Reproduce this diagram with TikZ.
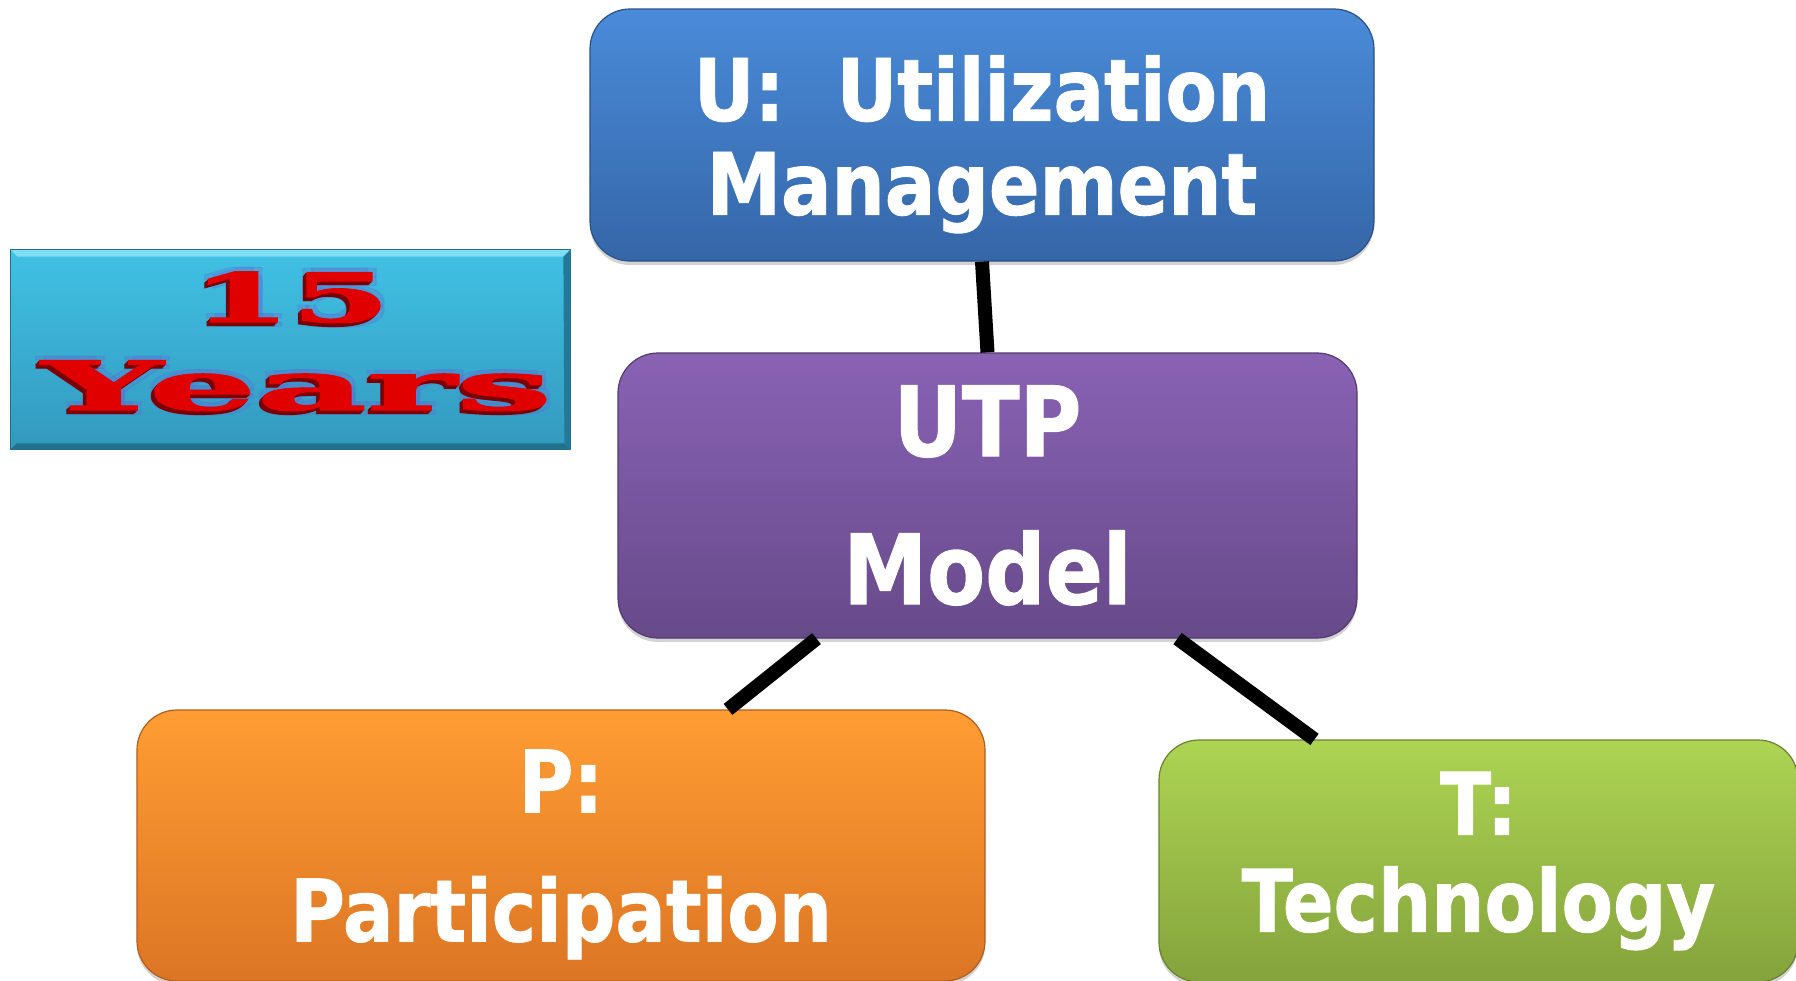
\documentclass[tikz,border=0pt]{standalone}
\usepackage{fontspec}
\usetikzlibrary{calc, shadows}
\newfontfamily\boxfont{DejaVu Sans}[FakeStretch=0.87, FakeBold=1]
\newfontfamily\yearsfont{DejaVu Serif}[FakeBold=1.5]

\definecolor{uTop}{HTML}{4A8BD9}
\definecolor{uBot}{HTML}{3566A8}
\definecolor{mTop}{HTML}{8962B4}
\definecolor{mBot}{HTML}{674A8A}
\definecolor{pTop}{HTML}{FF9D33}
\definecolor{pBot}{HTML}{DC7524}
\definecolor{tTop}{HTML}{ADD453}
\definecolor{tBot}{HTML}{84A33C}
\definecolor{yrsTop}{HTML}{40C1E4}
\definecolor{yrsBot}{HTML}{3399BE}
\definecolor{yrsLight}{HTML}{7FDDF5}
\definecolor{yrsEdge}{HTML}{22708C}
\definecolor{yrsRed}{HTML}{E00000}
\definecolor{yrsDark}{HTML}{7A0000}
\definecolor{yrsGlow}{HTML}{5A6FD8}

\tikzset{
    box/.style 2 args={rectangle, rounded corners=20pt, draw=#2!80!black, line width=0.6pt,
        top color=#1, bottom color=#2, text=white, align=center, inner sep=0pt,
        drop shadow={shadow xshift=0pt, shadow yshift=-2pt, opacity=0.35}},
    link/.style={line width=7pt, black},
    yrsText/.style={font=\yearsfont\bfseries\fontsize{34}{40}\selectfont, inner sep=0pt, anchor=base},
}

% glow, extruded shade, then the red face
\newcommand{\yearsWord}[4]{
    \foreach \a in {45,135,225,315}
        \node[yrsText, xscale=#3, text=yrsGlow, opacity=0.25] (#1glow\a) at ($(#2)+(\a:6)$) {#4};
    \foreach \d in {1,2,3}
        \node[yrsText, xscale=#3, text=yrsDark] (#1shade\d) at ($(#2)+(-1.2*\d,1.2*\d)$) {#4};
    \node[yrsText, xscale=#3, text=yrsRed] (#1) at (#2) {#4};
}

\begin{document}
\begin{tikzpicture}[x=0.5pt, y=-0.5pt]
    \useasboundingbox (0,0) rectangle (1796,981);

    % the four boxes of the model
    \node[box={uTop}{uBot}, minimum width=392pt, minimum height=126pt, text depth=0pt,
        font=\boxfont\bfseries\fontsize{43}{47}\selectfont] (U) at (982,135) {U:\ \ Utilization\\Management};
    \node[box={mTop}{mBot}, minimum width=369.5pt, minimum height=142.5pt,
        font=\boxfont\bfseries\fontsize{48.5}{74}\selectfont] (M) at (987.5,495.5) {UTP\\Model};
    \node[box={pTop}{pBot}, minimum width=424pt, minimum height=135.5pt, text depth=0pt,
        font=\boxfont\bfseries\fontsize{43}{64.5}\selectfont] (P) at (561,845.5) {P:\\Participation};
    \node[box={tTop}{tBot}, minimum width=319.5pt, minimum height=121pt,
        font=\boxfont\bfseries\fontsize{43}{48.5}\selectfont] (T) at (1478.5,861) {T:\\Technology};

    \draw[link] (U.south) -- (M.north);
    \draw[link] ($(M.south)+(-171,0)$) -- ($(P.north)+(167,0)$);
    \draw[link] ($(M.south)+(190,0)$) -- ($(T.north)+(-164,0)$);

    % bevelled badge
    \node[rectangle, minimum width=279.5pt, minimum height=99.5pt, inner sep=0pt,
        top color=yrsTop, bottom color=yrsBot] (yrs) at (290.5,349.5) {};
    \fill[yrsLight] (yrs.north west) -- (yrs.north east) -- ($(yrs.north east)+(-7,7)$) -- ($(yrs.north west)+(7,7)$) -- cycle;
    \fill[yrsEdge] (yrs.south west) -- (yrs.south east) -- ($(yrs.south east)+(-6,-6)$) -- ($(yrs.south west)+(6,-6)$) -- cycle;
    \fill[yrsEdge!80!yrsBot] (yrs.north east) -- (yrs.south east) -- ($(yrs.south east)+(-6,-6)$) -- ($(yrs.north east)+(-7,7)$) -- cycle;
    \draw[yrsEdge, line width=0.6pt] (yrs.north west) rectangle (yrs.south east);

    \yearsWord{yrsNum}{291,322}{2.1}{15}
    \yearsWord{yrsWord}{297,410}{2.5}{Years}
\end{tikzpicture}
\end{document}
